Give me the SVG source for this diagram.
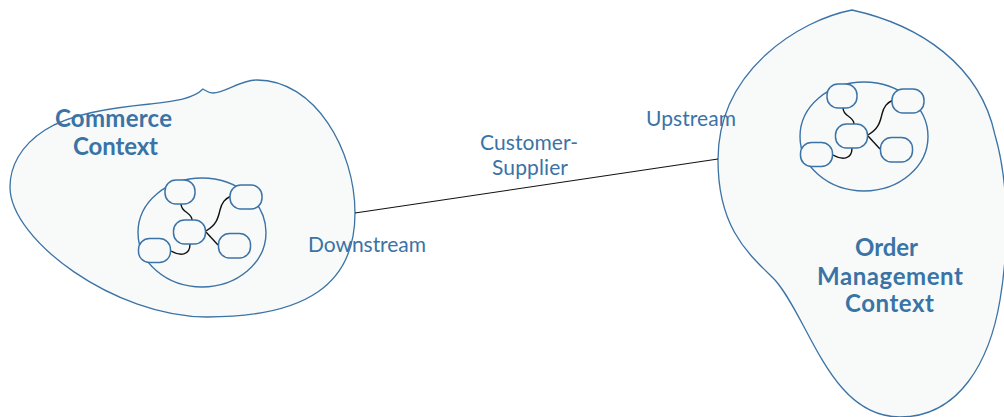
<svg xmlns="http://www.w3.org/2000/svg" width="1004" height="417" viewBox="0 0 1004 417">
<style>
.blob{fill:#f8fafa;stroke:#3b73a6;stroke-width:1.3}
.ell{fill:#f8fafa;stroke:#3b73a6;stroke-width:1.4}
.nd{fill:#f8fafa;stroke:#3b73a6;stroke-width:1.5}
.lnk{fill:none;stroke:#111;stroke-width:1.4}
.conn{fill:none;stroke:#111;stroke-width:1.1}
.ttl{font-family:Lato,"Open Sans",sans-serif;font-weight:bold;font-size:24px;fill:#3a73a6}
.lbl{font-family:Lato,"Open Sans",sans-serif;font-size:21px;fill:#3a73a6}
</style>
<defs>
<g id="cluster">
<ellipse class="ell" cx="202" cy="232.5" rx="64" ry="54.5"/>
<path class="lnk" d="M181,204 C181,213 192,212 192,220"/>
<path class="lnk" d="M190,244 C190,256 180,256 171,251"/>
<path class="lnk" d="M206,231 C216,225 218,219 220,210 C222,202 225,199 231,196"/>
<path class="lnk" d="M206,232 L218,245"/>
<rect class="nd" x="165" y="180" width="30" height="24" rx="11"/>
<rect class="nd" x="230" y="185" width="32" height="24" rx="11"/>
<rect class="nd" x="173.5" y="220" width="32" height="24" rx="11"/>
<rect class="nd" x="138.5" y="238.5" width="32" height="24" rx="11"/>
<rect class="nd" x="218.5" y="233.5" width="32" height="24.5" rx="11"/>
</g>
</defs>
<g id="commerce-context">
<path class="blob" d="M203,89 C193,99 175,101 150,104 C110,108 70,114 45,130 C20,146 10,167 10,187 C10,240 115,317 207,317 C305,317 355,285 355,213 C355,150 315,80 257,80 C240,80 225,93 213,93 C208,93 205,90 203,89 Z"/>
<use href="#cluster"/>
<text class="ttl" x="55" y="127" textLength="117">Commerce</text>
<text class="ttl" x="73" y="155" textLength="85">Context</text>
</g>
<g id="order-management-context">
<path class="blob" d="M852,10 C800,20 718,70 718,160 C718,230 750,255 775,280 C810,320 830,417 900,417 C960,417 990,360 1000,300 C1010,240 1008,180 995,135 C980,65 920,25 852,10 Z"/>
<use href="#cluster" transform="translate(662,-96)"/>
<text class="ttl" x="855" y="256" textLength="63">Order</text>
<text class="ttl" x="817" y="285" textLength="146">Management</text>
<text class="ttl" x="845" y="312" textLength="89">Context</text>
</g>
<g id="connectors">
<path class="conn" d="M355,213 L718,159"/>
<text class="lbl" x="308" y="252" textLength="118">Downstream</text>
<text class="lbl" x="480" y="150" textLength="98">Customer-</text>
<text class="lbl" x="492" y="175" textLength="76">Supplier</text>
<text class="lbl" x="646" y="126" textLength="90">Upstream</text>
</g>
</svg>
